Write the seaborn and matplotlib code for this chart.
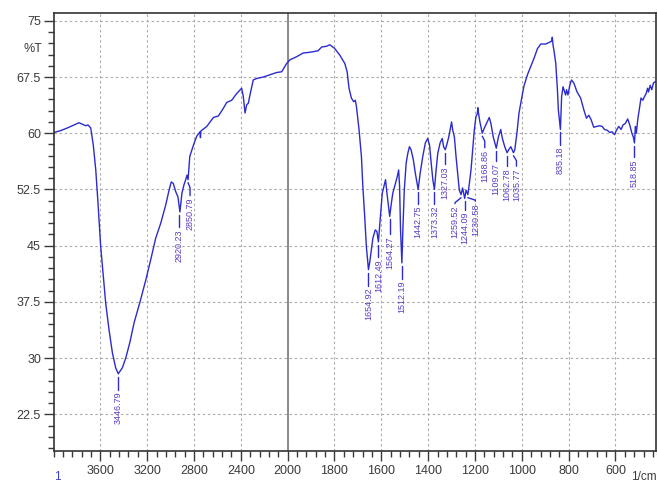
import numpy as np
import pandas as pd
import matplotlib
matplotlib.use("Agg")
import matplotlib.pyplot as plt
from matplotlib.lines import Line2D
from matplotlib.ticker import FixedLocator, NullFormatter, FuncFormatter
from matplotlib.transforms import Affine2D, ScaledTranslation
import seaborn as sns

# IR spectrum: wavenumber (1/cm) and transmittance (%T)
wavenumber = [
    3995, 3938, 3882, 3825, 3782, 3754, 3725, 3705, 3682, 3660,
    3639, 3620, 3597, 3574, 3554, 3526, 3497, 3469, 3446.79, 3412,
    3383, 3346, 3312, 3261, 3212, 3170, 3127, 3084, 3042, 3013,
    2994, 2977, 2956, 2937, 2920.23, 2903, 2886, 2871, 2860, 2850.79,
    2836, 2805, 2777, 2748, 2745, 2741, 2691, 2634, 2592, 2550,
    2521, 2478, 2435, 2393, 2379, 2364, 2350, 2336, 2322, 2294,
    2265, 2208, 2151, 2094, 2051, 2009, 1990, 1962, 1934, 1905,
    1870, 1855, 1834, 1820, 1799, 1777, 1756, 1746, 1738, 1728,
    1718, 1711, 1706, 1695, 1685, 1679, 1671, 1664, 1654.92, 1650,
    1643, 1636, 1626, 1619, 1612.49, 1604, 1596, 1589, 1582, 1576,
    1564.27, 1557, 1551, 1540, 1532, 1526, 1522, 1518, 1512.19, 1508,
    1502, 1494, 1487, 1480, 1473, 1463, 1455, 1442.75, 1434, 1423,
    1412, 1402, 1394, 1387, 1380, 1373.32, 1366, 1359, 1349, 1340,
    1334, 1327.03, 1321, 1312, 1305, 1300, 1295, 1288, 1281, 1274,
    1267, 1259.52, 1253, 1244.09, 1238, 1230.58, 1224, 1217, 1210, 1203,
    1196, 1190, 1188, 1186, 1179, 1168.86, 1160, 1151, 1139, 1132,
    1122, 1109.07, 1100, 1090, 1083, 1073, 1062.78, 1056, 1047, 1035.77,
    1030, 1021, 1012, 997, 990, 983, 976, 962, 948, 933,
    919, 898, 884, 872, 870, 866, 863, 855, 848, 844,
    835.18, 833, 830, 824, 820, 813, 809, 803, 795, 788,
    778, 764, 749, 735, 724, 714, 704, 693, 681, 667,
    657, 647, 636, 624, 615, 604, 596, 586, 576, 568,
    558, 548, 539, 530, 524, 518.85, 515, 511, 505, 497,
    491, 483, 476, 469, 463, 459, 452, 445, 438, 429,
]
transmittance = [
    60.1, 60.35, 60.7, 61.1, 61.4, 61.2, 61.0, 61.1, 60.7, 58.4,
    55.1, 50.7, 44.9, 40.9, 37.3, 33.8, 30.7, 28.7, 27.9, 28.7,
    30.0, 32.2, 34.7, 37.5, 40.4, 43.1, 46.0, 48.0, 50.4, 52.4,
    53.5, 53.3, 52.2, 51.5, 49.5, 52.0, 53.1, 53.8, 54.4, 53.8,
    56.9, 58.4, 59.6, 60.2, 59.4, 60.3, 60.9, 62.1, 62.3, 63.3,
    64.1, 64.4, 65.3, 66.0, 64.9, 62.7, 63.8, 64.0, 65.1, 67.1,
    67.3, 67.5, 67.8, 68.1, 68.2, 69.3, 69.8, 70.2, 70.7, 70.8,
    71.0, 71.5, 71.6, 71.8, 71.3, 70.4, 69.3, 68.2, 66.0, 64.7,
    64.2, 64.4, 63.5, 60.4, 56.9, 52.9, 48.9, 44.9, 41.8, 42.7,
    44.4, 46.0, 47.1, 46.9, 45.5, 48.9, 52.0, 52.9, 53.8, 52.0,
    48.9, 50.7, 52.0, 53.3, 54.2, 55.1, 52.9, 47.1, 42.7, 47.1,
    52.4, 56.0, 57.3, 58.2, 57.8, 56.4, 54.7, 52.5, 54.7, 56.9,
    58.7, 59.3, 58.4, 56.0, 53.8, 52.5, 55.1, 57.3, 58.7, 59.3,
    58.2, 57.8, 58.4, 59.5, 60.7, 61.5, 60.4, 59.5, 56.9, 54.7,
    52.4, 51.8, 52.7, 51.3, 52.4, 51.8, 53.3, 55.1, 57.8, 60.4,
    62.2, 62.6, 63.4, 62.9, 61.5, 60.0, 60.7, 61.3, 62.1, 61.3,
    59.5, 58.0, 59.5, 60.5, 59.3, 58.2, 57.4, 57.8, 58.2, 57.4,
    57.8, 60.0, 62.7, 65.3, 66.4, 67.1, 67.8, 68.9, 70.0, 71.3,
    71.9, 71.9, 72.1, 72.3, 72.8, 71.6, 71.1, 69.3, 65.8, 63.1,
    60.5, 62.2, 64.9, 66.2, 65.8, 65.1, 65.8, 65.1, 66.4, 67.1,
    66.7, 65.5, 64.7, 63.1, 62.0, 62.4, 61.8, 60.8, 60.9, 61.0,
    60.9, 60.5, 60.4, 60.1, 60.2, 59.8, 60.4, 60.9, 60.5, 61.1,
    61.3, 61.9, 61.1, 60.0, 59.5, 58.7, 60.9, 60.0, 61.8, 63.5,
    64.7, 64.4, 64.9, 65.3, 66.0, 65.5, 66.4, 65.8, 66.7, 66.9,
]

# Peak picks
peak_wn = [3446.79, 2920.23, 2850.79, 1654.92, 1612.49, 1564.27, 1512.19,
           1442.75, 1373.32, 1327.03, 1259.52, 1244.09, 1230.58, 1168.86,
           1109.07, 1062.78, 1035.77, 835.18, 518.85]
# label shift (px) sideways and distance (px) from peak to label top
peak_dx = [0, -1, 2, 0, 0, 0.5, 0, 0, 0, 0, -6, 0.5, 7.5, 2.5, 0, 0, 3, 0, -0.5]
peak_drop = [18, 17.5, 18, 18, 17.5, 19.5, 18, 16.5, 16.5, 16.5, 11, 13.5, 8.5,
             16.5, 15, 15.5, 15.5, 17.5, 16.5]

x_major = [3600, 3200, 2800, 2400, 2000, 1800, 1600, 1400, 1200, 1000, 800, 600]
y_major = [22.5, 30, 37.5, 45, 52.5, 60, 67.5, 75]

df = pd.DataFrame({"wavenumber": wavenumber, "transmittance": transmittance})

sns.set_theme(style="white")
plt.rcParams["font.family"] = ["Liberation Sans", "DejaVu Sans"]

fig = plt.figure(figsize=(6.58, 4.84), dpi=100)
ax = fig.add_axes([53.5 / 658, 1 - 451 / 484, (656 - 53.5) / 658, (451 - 13.3) / 484])

line_color = "#2b2bcf"
label_color = "#5a3cc6"

sns.lineplot(data=df, x="wavenumber", y="transmittance", ax=ax, sort=False,
             estimator=None, color=line_color, lw=1.0)


# Compressed scale above 2000 1/cm (half the spacing)
def fwd(x):
    x = np.asarray(x, dtype=float)
    return np.where(x > 2000, 2000 + (x - 2000) / 2.0, x)


def inv(u):
    u = np.asarray(u, dtype=float)
    return np.where(u > 2000, 2000 + (u - 2000) * 2.0, u)


ax.set_xscale("function", functions=(fwd, inv))
ax.set_xlim(4000, 427)
ax.set_ylim(17.6, 76)

ax.xaxis.set_major_locator(FixedLocator(x_major))
x_minor = [v for v in np.arange(4000, 2000, -80)] + [v for v in np.arange(2000, 420, -40)]
x_minor = [v for v in x_minor if v not in x_major]
ax.xaxis.set_minor_locator(FixedLocator(x_minor))
ax.xaxis.set_minor_formatter(NullFormatter())
ax.xaxis.set_major_formatter(FuncFormatter(lambda v, p: f"{v:.0f}"))

ax.yaxis.set_major_locator(FixedLocator(y_major))
ax.yaxis.set_minor_locator(FixedLocator(np.arange(18, 76.1, 1.5)))
ax.yaxis.set_major_formatter(FuncFormatter(lambda v, p: f"{v:g}"))

ax.set_xlabel("")
ax.set_ylabel("")

tick_color = "#3a3a3a"
ax.tick_params(axis="both", which="major", direction="out", length=7, width=1.0,
               color=tick_color, labelcolor=tick_color, labelsize=9, pad=2,
               bottom=True, left=True)
ax.tick_params(axis="both", which="minor", direction="out", length=4, width=1.0,
               color=tick_color, bottom=True, left=True)
ax.tick_params(axis="x", which="major", pad=3)

for s in ax.spines.values():
    s.set_visible(True)
    s.set_color("#333333")
    s.set_linewidth(1.2)

ax.grid(True, which="major", axis="both", color="#ababab", lw=0.8,
        linestyle=(0, (2.2, 2.4)))
ax.axvline(2000, color="#8a8a8a", lw=1.4, zorder=1.5)

# %T marker on the y axis
ax.text(-0.019, (71.25 - 17.6) / (76 - 17.6), "%T", transform=ax.transAxes,
        ha="right", va="center", fontsize=9, color=tick_color)

# Peak labels with leaders
wn_arr = np.array(wavenumber)
px2pt = 72.0 / fig.dpi
for wn, dx, drop in zip(peak_wn, peak_dx, peak_drop):
    t = transmittance[int(np.argmin(np.abs(wn_arr - wn)))]
    trans = Affine2D().scale(fig.dpi / 72.0) + ScaledTranslation(wn, t, ax.transData)
    gap = 3.0
    end = drop - 2.0
    if abs(dx) > 1.5:
        bend = min(5.0, end - gap - 1)
        xs = [0, dx, dx]
        ys = [-gap, -gap - bend, -end]
    else:
        xs = [dx, dx]
        ys = [-gap, -end]
    ax.add_line(Line2D(np.array(xs) * px2pt, np.array(ys) * px2pt, transform=trans,
                       color=line_color, lw=1.0, clip_on=False))
    ax.annotate(f"{wn:.2f}", xy=(wn, t), xytext=(dx * px2pt, -drop * px2pt),
                textcoords="offset points", rotation=90, ha="center", va="top",
                fontsize=6.5, color=label_color)

fig.text(57 / 658, 1 - 477 / 484, "1", ha="center", va="center", fontsize=8.5,
         color="#4040cc")
fig.text(657 / 658, 1 - 477 / 484, "1/cm", ha="right", va="center", fontsize=8.5,
         color=tick_color)

fig.savefig("out.png", dpi=100)
